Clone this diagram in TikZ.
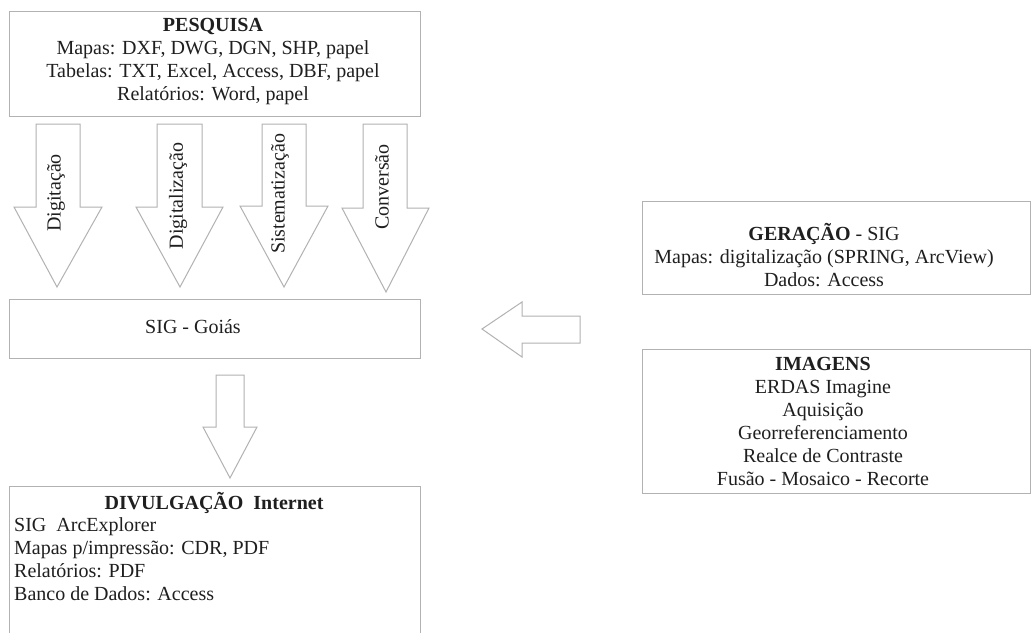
\documentclass[tikz,border=0pt]{standalone}
\usepackage{fontspec}
\setmainfont{Liberation Serif}
\begin{document}
\begin{tikzpicture}[x=1pt,y=-1pt,
  box/.style={draw=black!30, line width=1pt, inner sep=0pt},
  blk/.style={draw=black!30, line width=1pt, fill=white, line join=miter},
  txt/.style={font=\fontsize{20}{23}\selectfont, text=black!88, inner sep=0pt, align=center}]
\clip (0,0) rectangle (1031,632);
\fill[white] (0,0) rectangle (1031,632);
% PESQUISA
\node[box, minimum width=411pt, minimum height=105pt] (pesq) at (214.5,63.5) {};
\node[txt] (pesqt) at (213,61.5) {\textbf{PESQUISA}\\Mapas: DXF, DWG, DGN, SHP, papel\\Tabelas: TXT, Excel, Access, DBF, papel\\Relatórios: Word, papel};
% down arrows
\draw[blk] (36,124) -- (80,124) -- (80,207) -- (102,207) -- (57,287) -- (14,207) -- (36,207) -- cycle;
\draw[blk] (157,124) -- (202,124) -- (202,207) -- (223,207) -- (180,287) -- (136,207) -- (157,207) -- cycle;
\draw[blk] (262,124) -- (306,124) -- (306,206) -- (328,206) -- (284,287) -- (240,206) -- (262,206) -- cycle;
\draw[blk] (363,124) -- (407,124) -- (407,208) -- (429,208) -- (386,292) -- (342,208) -- (363,208) -- cycle;
\node[txt, rotate=90] (l1) at (56,193) {Digitação};
\node[txt, rotate=90] (l2) at (178,196) {Digitalização};
\node[txt, rotate=90] (l3) at (280,194) {Sistematização};
\node[txt, rotate=90] (l4) at (382,187) {Conversão};
% SIG - Goias
\node[box, minimum width=411pt, minimum height=59pt] (sig) at (214.5,328.5) {};
\node[txt] (sigt) at (193,327) {SIG - Goiás};
% left arrow
\draw[blk] (482,329) -- (522,302) -- (522,316) -- (580,316) -- (580,343) -- (522,343) -- (522,357) -- cycle;
% GERACAO
\node[box, minimum width=388pt, minimum height=93pt] (ger) at (836,247.5) {};
\node[txt] (gert) at (824,255) {\textbf{GERAÇÃO} - SIG\\Mapas: digitalização (SPRING, ArcView)\\Dados: Access};
% IMAGENS
\node[box, minimum width=388pt, minimum height=144pt] (img) at (836,421) {};
\node[txt] (imgt) at (823,421.5) {\textbf{IMAGENS}\\ERDAS Imagine\\Aquisição\\Georreferenciamento\\Realce de Contraste\\Fusão - Mosaico - Recorte};
% down arrow to divulgacao
\draw[blk] (216,375) -- (244,375) -- (244,427) -- (257,427) -- (230,478) -- (203,427) -- (216,427) -- cycle;
% DIVULGACAO
\node[box, minimum width=411pt, minimum height=164pt] (div) at (214.5,568) {};
\node[txt] (divt) at (214,503) {\textbf{DIVULGAÇÃO\ \ Internet}};
\node[txt, align=left, anchor=west] (divl) at (14,559.5) {SIG\ \ ArcExplorer\\Mapas p/impressão: CDR, PDF\\Relatórios: PDF\\Banco de Dados: Access};
\end{tikzpicture}
\end{document}
